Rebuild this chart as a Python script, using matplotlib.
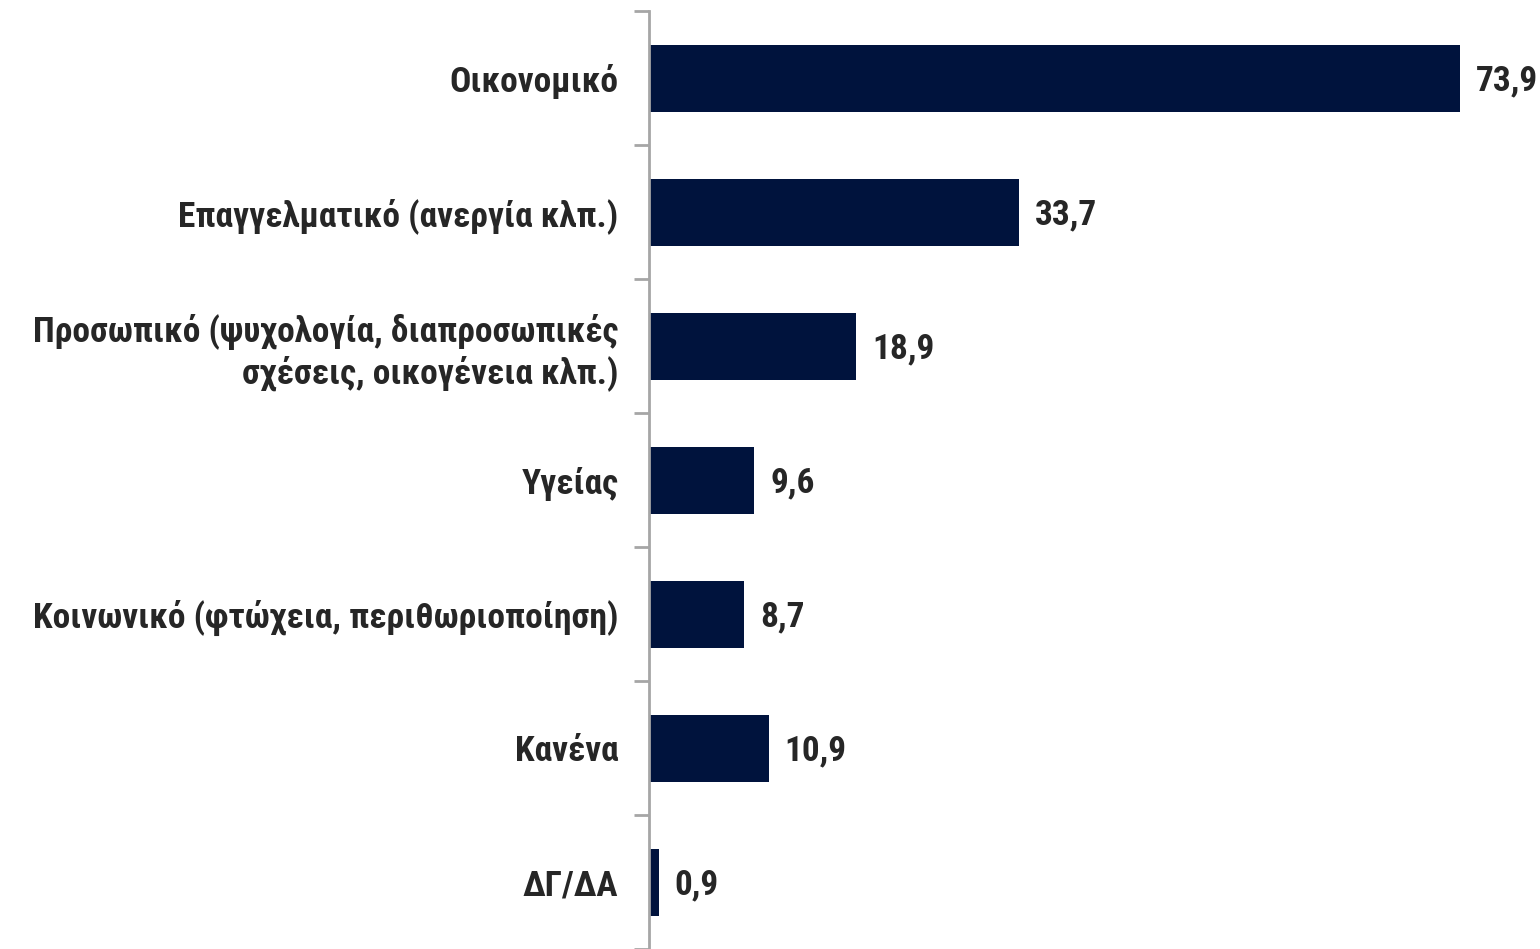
import matplotlib
matplotlib.use("Agg")
import matplotlib.pyplot as plt

categories = [
    "Οικονομικό",
    "Επαγγελματικό (ανεργία κλπ.)",
    "Προσωπικό (ψυχολογία, διαπροσωπικές\nσχέσεις, οικογένεια κλπ.)",
    "Υγείας",
    "Κοινωνικό (φτώχεια, περιθωριοποίηση)",
    "Κανένα",
    "ΔΓ/ΔΑ",
]
values = [73.9, 33.7, 18.9, 9.6, 8.7, 10.9, 0.9]
value_labels = ["73,9", "33,7", "18,9", "9,6", "8,7", "10,9", "0,9"]

plt.rcParams['font.family'] = ['Roboto Condensed', 'DejaVu Sans']

W, H = 1540, 949
fig = plt.figure(figsize=(W / 100, H / 100), dpi=100)
ax = fig.add_axes([649 / W, 0, 1 - 649 / W, 1 - 11 / H])

n = len(categories)
ypos = list(range(n))
ax.barh(ypos, values, height=0.5, color="#00133d")
ax.set_ylim(n - 0.5, -0.5)
ax.set_xlim(0, (W - 649) / 10.97)

text_color = "#262626"
fs = 25.5
for y, v, lab in zip(ypos, values, value_labels):
    ax.text(v + 1.45, y + 0.02, lab, va="center", ha="left", fontsize=fs,
            fontweight="bold", color=text_color)

ax.set_yticks(ypos)
ax.set_yticklabels(categories, fontsize=fs, fontweight="bold", color=text_color,
                   linespacing=1.18, ha="right")
ax.set_yticks([i - 0.5 for i in range(n + 1)], minor=True)
ax.tick_params(axis="y", which="major", length=0, pad=22)
ax.tick_params(axis="y", which="minor", length=11, width=2, color="#a6a6a6")
ax.set_xticks([])
for s in ["top", "right", "bottom"]:
    ax.spines[s].set_visible(False)
ax.spines["left"].set_color("#a6a6a6")
ax.spines["left"].set_linewidth(2)

fig.savefig("out.png", dpi=100)
